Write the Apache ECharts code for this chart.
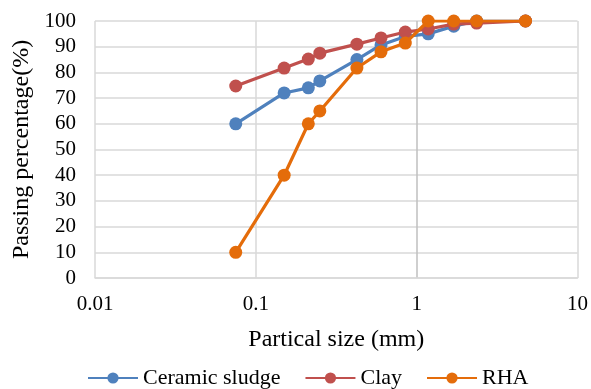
<!DOCTYPE html>
<html>
<head>
<meta charset="utf-8">
<script src="https://cdn.jsdelivr.net/npm/echarts@6/dist/echarts.min.js"></script>
<style>
  html, body { margin: 0; padding: 0; background: #fff; }
  #main { width: 591px; height: 389px; }
</style>
</head>
<body>
<div id="main"></div>
<script>
// particle sizes (mm)
const sizes = [0.075, 0.15, 0.212, 0.25, 0.425, 0.6, 0.85, 1.18, 1.7, 2.36, 4.75];
const ceramicSludge = [60, 72, 74, 76.7, 85, 90.7, 94, 95, 98, 100, 100];
const clay = [74.7, 81.7, 85.2, 87.5, 91, 93.4, 95.7, 96.9, 98.8, 99.2, 100];
const rha = [10, 40, 60, 65, 81.7, 88, 91.4, 100, 100, 100, 100];
const seriesNames = ['Ceramic sludge', 'Clay', 'RHA'];
const colors = ['#4F81BD', '#C0504D', '#E46C0A'];

const font = '"Liberation Serif", "Times New Roman", serif';
const chart = echarts.init(document.getElementById('main'));

function pairs(vals) {
  return sizes.map((s, i) => [s, vals[i]]);
}

const allData = [ceramicSludge, clay, rha];

chart.setOption({
  animation: false,
  textStyle: { fontFamily: font },
  grid: { left: 95, right: 12, top: 21, bottom: 111 },
  legend: {
    top: 362,
    left: 82,
    itemWidth: 50,
    itemHeight: 14,
    itemGap: 24,
    textStyle: { fontFamily: font, fontSize: 22, color: '#000' },
    data: seriesNames
  },
  xAxis: {
    type: 'log',
    logBase: 10,
    min: 0.01,
    max: 10,
    name: 'Partical size (mm)',
    nameLocation: 'middle',
    nameGap: 50,
    nameTextStyle: { fontFamily: font, fontSize: 24, color: '#000' },
    axisLine: { show: true, lineStyle: { color: '#d9d9d9', width: 1.5 } },
    axisTick: { show: false },
    axisLabel: {
      color: '#000', fontSize: 21, fontFamily: font, margin: 16,
      formatter: v => String(+v.toPrecision(3))
    },
    splitLine: { show: true, lineStyle: { color: ['#d9d9d9', '#d9d9d9', '#bfbfbf', '#d9d9d9'], width: 1.5 } },
    minorTick: { show: false }
  },
  yAxis: {
    type: 'value',
    min: 0,
    max: 100,
    interval: 10,
    name: 'Passing percentage(%)',
    nameLocation: 'middle',
    nameGap: 60,
    nameTextStyle: { fontFamily: font, fontSize: 24, color: '#000' },
    axisLine: { show: false },
    axisTick: { show: false },
    axisLabel: { color: '#000', fontSize: 21, fontFamily: font, margin: 19 },
    splitLine: { show: true, lineStyle: { color: '#d9d9d9', width: 1.5 } }
  },
  series: seriesNames.map((name, i) => ({
    name: name,
    type: 'line',
    data: pairs(allData[i]),
    color: colors[i],
    symbol: 'circle',
    symbolSize: 13,
    lineStyle: { width: 3.2 },
    z: 2 + i
  }))
});
</script>
</body>
</html>
